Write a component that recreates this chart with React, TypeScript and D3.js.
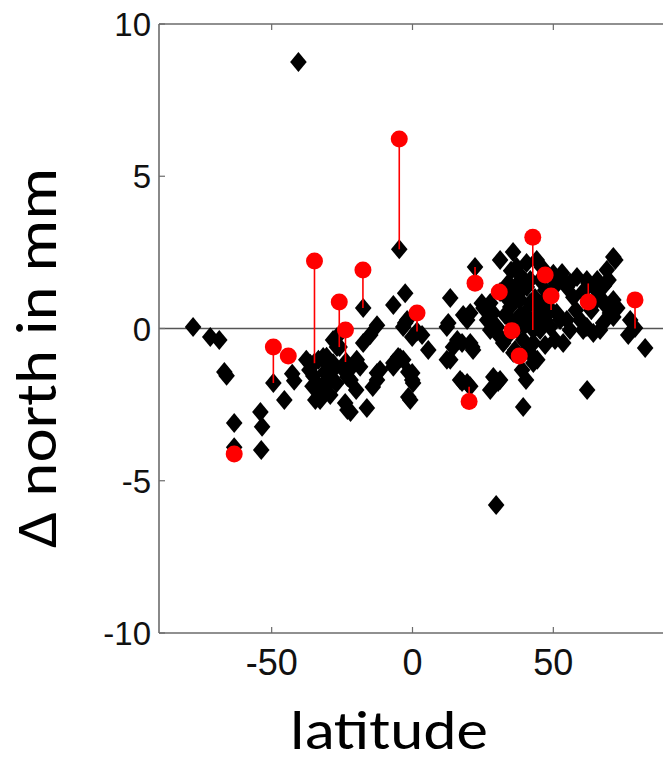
import React from "react";
import * as d3 from "d3";

const diamonds: [number, number][] = [
  [-77.9, 0.05], [-71.8, -0.28], [-68.6, -0.38], [-66.8, -1.43], [-66.0, -1.55], [-63.3, -3.1], [-63.3, -3.9],
  [-54.0, -2.74], [-53.4, -3.23], [-53.7, -3.99], [-49.4, -1.79], [-45.5, -2.35], [-42.7, -1.49], [-42.0, -1.72],
  [-40.5, 8.75], [-37.7, -1.03], [-36.3, -1.16], [-35.2, -1.56], [-34.9, -1.13], [-34.5, -2.35], [-32.8, -2.12],
  [-32.8, -2.35], [-31.7, -0.94], [-30.4, -1.69], [-29.3, -1.69], [-28.2, -1.36], [-28.2, -0.38], [-26.8, -0.61],
  [-26.8, -0.28], [-25.9, -0.61], [-23.1, -1.59], [-23.9, -2.45], [-23.1, -2.68], [-22.0, -2.74], [-22.0, -1.69],
  [-23.6, -1.1], [-21.5, -1.26], [-19.8, -1.03], [-18.6, -1.26], [-17.5, -0.48], [-15.0, -0.21], [-12.6, 0.11],
  [-17.5, 0.67], [-16.2, -2.61], [-14.1, -1.92], [-12.6, -1.69], [-11.5, -1.36], [-12.6, -1.46], [-6.8, 0.77],
  [-6.8, -1.13], [-5.1, -0.94], [-4.4, -0.97], [-2.6, 1.16], [-1.9, 0.28], [-4.7, 2.6], [-3.3, 0.05], [-2.6, 0.18],
  [-1.5, -1.43], [-0.1, -1.69], [-1.5, -2.25], [-0.8, -2.35], [-0.1, -0.28], [3.4, -0.21], [5.6, -0.71], [-3.3, -1.03],
  [-33.4, -1.03], [-30.5, -0.93], [-28.2, -1.14], [-29.2, -2.18], [-33.4, -1.86], [-31.1, -1.43], [-36.6, -1.36],
  [-20.0, -2.02], [12.2, 0.05], [13.4, 1.0], [12.7, 0.18], [14.4, -0.61], [13.4, -1.03], [15.9, -0.38], [17.6, -0.48],
  [18.0, 0.44], [19.4, 0.28], [20.5, 0.51], [21.2, -0.61], [20.5, -0.48], [21.5, -0.71], [12.2, -1.03], [16.9, -1.69],
  [17.6, -1.76], [19.4, -1.79], [20.5, -1.9], [27.6, -2.02], [28.7, -1.59], [30.4, -1.76], [31.1, -1.69], [39.3, -2.58],
  [29.7, -5.8], [22.2, 2.02], [31.1, 2.25], [35.7, 2.51], [37.0, 2.02], [40.5, 2.15], [44.1, 2.25], [25.2, 0.67],
  [27.6, 0.84], [26.5, 0.28], [28.6, 0.51], [30.0, 0.05], [31.1, -0.28], [27.6, -0.05], [33.6, -0.28], [32.2, -0.48],
  [34.7, 0.71], [38.2, 0.94], [40.6, 1.36], [41.8, 0.84], [45.3, 0.61], [42.9, 0.28], [45.3, -0.05], [42.9, -0.48],
  [44.3, -1.03], [40.6, -0.71], [39.3, -0.38], [41.8, -0.81], [42.9, -1.13], [36.5, 1.26], [38.2, 0.44], [35.4, 0.21],
  [39.9, 0.11], [47.1, 1.26], [48.2, 0.94], [47.1, 0.28], [48.9, 0.05], [50.9, 1.49], [52.4, 1.69], [54.8, 1.36],
  [57.1, 1.03], [51.2, 0.51], [54.8, 0.28], [59.5, 0.28], [61.9, 0.05], [61.9, 1.59], [64.3, 1.36], [66.6, 1.03],
  [69.0, 0.71], [70.1, 0.51], [67.7, 0.18], [71.3, 2.35], [69.0, 1.92], [69.6, 1.59], [72.0, 2.25], [71.3, 0.94],
  [72.7, 0.67], [71.3, 0.38], [53.5, -0.48], [62.0, -2.02], [77.3, 0.28], [76.6, -0.21], [82.6, -0.64], [53.1, 1.82],
  [58.4, 1.69], [65.6, 1.59], [66.6, -0.05], [64.2, -0.15], [60.6, -0.05], [55.9, -0.05], [62.5, 1.49], [79.0, 0.02],
  [42.9, -0.05], [49.2, 0.61], [1.6, -0.1], [31.1, 1.2], [34.0, 1.49], [38.2, 1.76], [41.8, 1.59], [45.3, 1.59],
  [36.4, -0.71], [38.9, -1.36], [40.3, -1.69], [47.1, -0.54], [50.6, -0.38], [52.4, 0.28], [32.9, 0.44], [24.6, 0.83],
  [0.2, -1.79], [-0.1, -1.46], [-6.8, -1.26], [35.8, -0.8],
  [36.0, 0.9], [37.5, 1.0], [39.0, 1.3], [43.5, 1.0], [44.0, 0.4], [37.0, 0.0], [40.0, 0.5], [46.5, 0.9], [49.8, 1.3],
  [33.5, 1.0], [35.0, 1.9], [38.5, 1.6], [46.0, 2.0], [50.0, 1.8], [56.0, 1.5], [58.0, 0.6], [60.5, 1.2], [63.5, 0.6],
  [65.0, 0.9], [68.0, 1.4], [-30.0, -1.2], [-27.0, -1.8], [-25.0, -1.3], [-35.5, -1.9], [-31.5, -2.0],
];

const redLat = [-63.3, -49.4, -44.1, -34.8, -26.0, -23.8, -17.6, -4.7, 1.6, 20.1, 22.2, 30.8, 35.3, 37.9, 42.7, 47.1, 49.2, 62.4, 79.0];
const redNorth = [-4.12, -0.61, -0.9, 2.22, 0.87, -0.05, 1.92, 6.22, 0.51, -2.4, 1.49, 1.2, -0.07, -0.9, 3.0, 1.76, 1.07, 0.87, 0.94];
const redBase = [-3.9, -1.79, -0.9, -1.14, -0.61, -1.1, 0.67, 2.6, -0.1, -1.91, 2.02, 1.2, -0.07, -0.9, -0.05, 1.76, 0.61, 1.48, 0.0];

const xTicks = [-50, 0, 50];
const yTicks = [-10, -5, 0, 5, 10];

const W = 663;
const H = 761;

export default function App() {
  const x = d3.scaleLinear().domain([-90, 90]).range([159, 666]);
  const y = d3.scaleLinear().domain([-10, 10]).range([633, 24]);
  const axisColor = "#6b6b6b";
  const dw = 8.3;
  const dh = 10;
  const diamondPath = (cx: number, cy: number) =>
    `M${cx},${cy - dh}L${cx + dw},${cy}L${cx},${cy + dh}L${cx - dw},${cy}Z`;
  const tickFont = "'Liberation Sans', Arial, sans-serif";
  const labelFont = "Carlito, Lato, 'Open Sans', sans-serif";

  return (
    <svg width={W} height={H} style={{ position: "absolute", left: 0, top: 0, background: "#fff" }}>
      <line x1={x(-90)} x2={W} y1={y(0)} y2={y(0)} stroke="#555" strokeWidth={1.6} />
      <line x1={x(-90)} x2={W} y1={y(10)} y2={y(10)} stroke={axisColor} strokeWidth={1.6} />
      <line x1={x(-90)} x2={W} y1={y(-10)} y2={y(-10)} stroke={axisColor} strokeWidth={1.6} />
      <line x1={x(-90)} x2={x(-90)} y1={y(10)} y2={y(-10)} stroke={axisColor} strokeWidth={1.6} />
      {xTicks.map((t) => (
        <g key={"xt" + t}>
          <line x1={x(t)} x2={x(t)} y1={y(-10)} y2={y(-10) - 6} stroke={axisColor} strokeWidth={1.2} />
          <line x1={x(t)} x2={x(t)} y1={y(10)} y2={y(10) + 6} stroke={axisColor} strokeWidth={1.2} />
          <text x={x(t)} y={675} textAnchor="middle" fontFamily={tickFont} fontSize={36} fill="#111">
            {t}
          </text>
        </g>
      ))}
      {yTicks.map((t) => (
        <g key={"yt" + t}>
          <line x1={x(-90)} x2={x(-90) + 6} y1={y(t)} y2={y(t)} stroke={axisColor} strokeWidth={1.2} />
          <text x={151} y={y(t) + 12} textAnchor="end" fontFamily={tickFont} fontSize={33} fill="#111">
            {t}
          </text>
        </g>
      ))}
      {diamonds.map(([lat, v], i) => (
        <path key={"d" + i} d={diamondPath(x(lat), y(v))} fill="#000" />
      ))}
      {redLat.map((lat, i) => (
        <line key={"s" + i} x1={x(lat)} x2={x(lat)} y1={y(redNorth[i])} y2={y(redBase[i])} stroke="#ff0000" strokeWidth={1.6} />
      ))}
      {redLat.map((lat, i) => (
        <circle key={"r" + i} cx={x(lat)} cy={y(redNorth[i])} r={8.5} fill="#ff0000" />
      ))}
      <text x={389} y={749} textAnchor="middle" fontFamily={labelFont} fontSize={56} fill="#000" textLength={198} lengthAdjust="spacingAndGlyphs">
        latitude
      </text>
      <text
        transform={`translate(56,358) rotate(-90)`}
        textAnchor="middle"
        fontFamily={labelFont}
        fontSize={58}
        fill="#000"
        textLength={380}
        lengthAdjust="spacingAndGlyphs"
      >
        Δ north in mm
      </text>
    </svg>
  );
}
